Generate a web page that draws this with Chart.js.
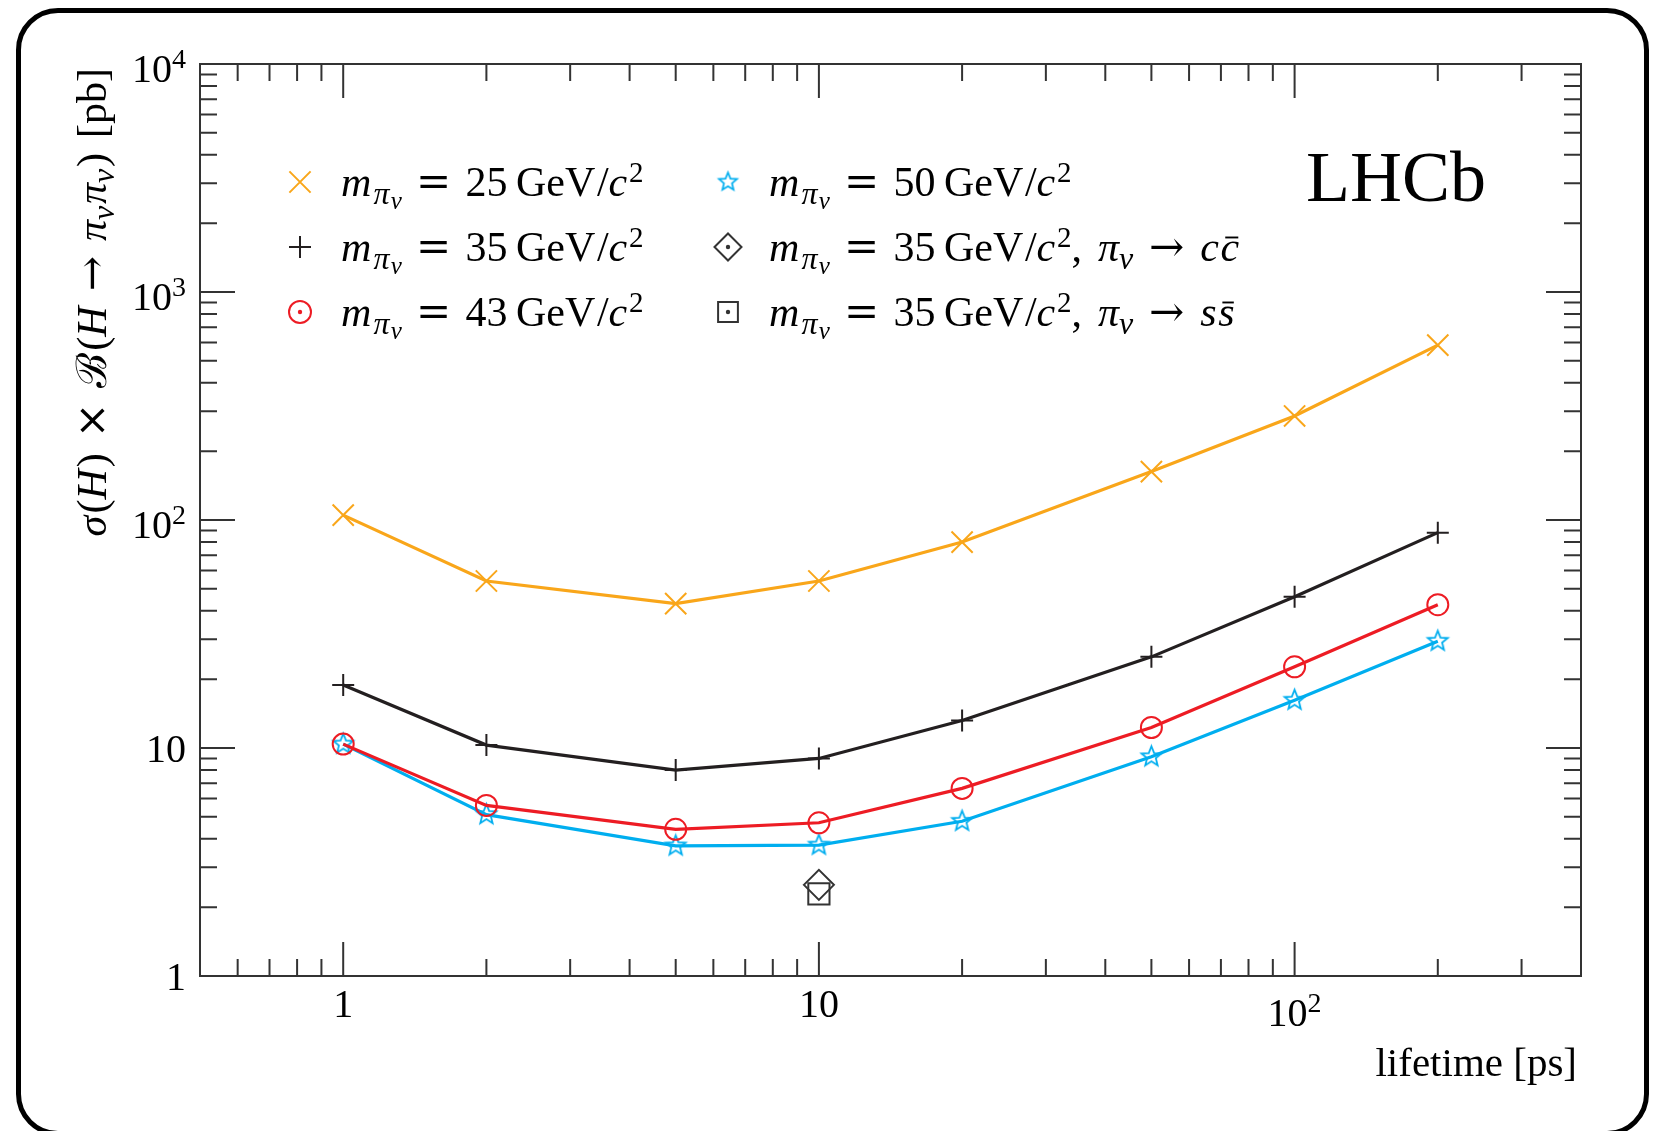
<!DOCTYPE html>
<html>
<head>
<meta charset="utf-8">
<script src="https://cdn.jsdelivr.net/npm/chart.js@4.4.0/dist/chart.umd.min.js"></script>
<style>
  html, body { margin: 0; padding: 0; background: #fff; }
  #wrap { position: relative; width: 1662px; height: 1131px; overflow: hidden; }
  #frame {
    position: absolute; left: 16px; top: 8px;
    width: 1623px; height: 1118px;
    border: 5px solid #000; border-radius: 42px;
  }
  #plot { position: absolute; left: 0; top: 0; }
</style>
</head>
<body>
<div id="wrap">
  <div id="frame"></div>
  <canvas id="plot" width="1662" height="1131"></canvas>
</div>
<script>
// pi_v lifetimes [ps] and upper limits on sigma x BR [pb]
const lifetimes = [1, 2, 5, 10, 20, 50, 100, 200];
const xsec25 = [105, 54, 43, 54, 80, 163, 286, 585];
const xsec35 = [18.9, 10.3, 8.0, 9.0, 13.2, 25.1, 46.1, 88];
const xsec43 = [10.4, 5.6, 4.4, 4.7, 6.65, 12.3, 22.7, 42.5];
const xsec50 = [10.4, 5.1, 3.72, 3.75, 4.77, 9.15, 16.2, 29.4];
const ccLifetimes = [10];
const xsec35cc = [2.51];
const ssLifetimes = [10];
const xsec35ss = [2.29];

const masses = ["25", "35", "43", "50", "35", "35"];
const decayQuarks = [null, null, null, null, "c", "s"];

// axis ticks and labels
const xMajorTicks = [1, 10, 100];
const xMinorTicks = [0.6, 0.7, 0.8, 0.9, 2, 3, 4, 5, 6, 7, 8, 9,
  20, 30, 40, 50, 60, 70, 80, 90, 200, 300];
const yMajorTicks = [1, 10, 100, 1000, 10000];
const yMinorTicks = [2, 3, 4, 5, 6, 7, 8, 9, 20, 30, 40, 50, 60, 70, 80, 90,
  200, 300, 400, 500, 600, 700, 800, 900, 2000, 3000, 4000, 5000, 6000, 7000, 8000, 9000];
const xTickLabels = ["1", "10", "10^2"];
const yTickLabels = ["1", "10", "10^2", "10^3", "10^4"];

const ORANGE = "#F9A61A";
const BLACK = "#231F20";
const RED = "#ED1C24";
const BLUE = "#00AEEF";
const GREY = "#333333";

const FONT = '"Liberation Serif", "Times New Roman", serif';
const MATH_FONT = '"DejaVu Serif", serif';
const TICK_SIZE = 40;
const TEXT_SIZE = 42;

// open five-pointed star marker
function makeStar(outer, inner, color, lw) {
  const size = Math.ceil(2 * outer + 2 * lw + 2);
  const c = document.createElement("canvas");
  c.width = size; c.height = size;
  const g = c.getContext("2d");
  g.translate(size / 2, size / 2);
  g.beginPath();
  for (let k = 0; k < 10; k++) {
    const r = k % 2 === 0 ? outer : inner;
    const a = -Math.PI / 2 + k * Math.PI / 5;
    g.lineTo(r * Math.cos(a), r * Math.sin(a));
  }
  g.closePath();
  g.strokeStyle = color;
  g.lineWidth = lw;
  g.lineJoin = "miter";
  g.stroke();
  return c;
}
const starPlot = makeStar(10.5, 4.6, BLUE, 1.8);
const starLegend = makeStar(9.5, 4.2, BLUE, 1.7);

// text runs: [text, kind]; kind "gap" takes an em fraction instead of text
const STYLE = {
  r: { s: 1, dy: 0 },
  i: { s: 1, dy: 0, it: true },
  m: { s: 1, dy: 0, math: true },
  sub: { s: 0.75, dy: 0.2, it: true },
  ss: { s: 0.6, dy: 0.3, it: true },
  sup: { s: 0.7, dy: -0.34 },
  bar: { s: 1, dy: 0, it: true, bar: true },
};

function fontFor(st, size) {
  return (st.it ? "italic " : "") + Math.round(size * st.s) + "px " + (st.math ? MATH_FONT : FONT);
}

function drawRich(ctx, runs, x, y, size, align) {
  const parts = runs.map(([t, k]) => {
    if (k === "gap") return { gap: true, w: t * size };
    const st = STYLE[k];
    ctx.font = fontFor(st, size);
    return { t, st, w: ctx.measureText(t).width };
  });
  const total = parts.reduce((s, p) => s + p.w, 0);
  let cx = align === "right" ? x - total : align === "center" ? x - total / 2 : x;
  ctx.textAlign = "left";
  ctx.textBaseline = "alphabetic";
  for (const p of parts) {
    if (!p.gap) {
      ctx.font = fontFor(p.st, size);
      ctx.fillText(p.t, cx, y + p.st.dy * size);
      if (p.st.bar) {
        const top = y - size * 0.56;
        ctx.save();
        ctx.lineWidth = size * 0.045;
        ctx.strokeStyle = ctx.fillStyle;
        ctx.beginPath();
        ctx.moveTo(cx + p.w * 0.25, top);
        ctx.lineTo(cx + p.w * 0.95, top);
        ctx.stroke();
        ctx.restore();
      }
    }
    cx += p.w;
  }
  return total;
}

function tickRuns(label) {
  const [b, e] = label.split("^");
  return e ? [[b, "r"], [e, "sup"]] : [[b, "r"]];
}

function massRuns(mass, quark) {
  const runs = [["m", "i"], [0.05, "gap"], ["π", "sub"], [0.03, "gap"], ["v", "ss"],
    [0.34, "gap"], ["=", "m"], [0.34, "gap"],
    [mass, "r"], [0.2, "gap"], ["GeV", "r"], [0.04, "gap"], ["/", "r"], ["c", "i"], [0.04, "gap"], ["2", "sup"]];
  if (quark) {
    runs.push([",", "r"], [0.38, "gap"], ["π", "i"], ["v", "sub"], [0.38, "gap"], ["→", "m"],
      [0.38, "gap"], [quark, "i"], [0.04, "gap"], [quark, "bar"]);
  }
  return runs;
}

const yTitleRuns = [["σ", "i"], [0.05, "gap"], ["(", "r"], ["H", "i"], [0.05, "gap"], [")", "r"],
  [0.36, "gap"], ["×", "m"], [0.36, "gap"], ["ℬ", "r"], [0.05, "gap"], ["(", "r"], ["H", "i"],
  [0.36, "gap"], ["→", "m"], [0.36, "gap"],
  ["π", "i"], ["v", "sub"], [0.04, "gap"], ["π", "i"], ["v", "sub"], [0.04, "gap"], [")", "r"],
  [0.36, "gap"], ["[pb]", "r"]];

const series = [
  { data: xsec25, x: lifetimes, color: ORANGE, style: "crossRot", radius: 15, line: true },
  { data: xsec35, x: lifetimes, color: BLACK, style: "cross", radius: 11, line: true },
  { data: xsec43, x: lifetimes, color: RED, style: "circle", radius: 10.5, line: true },
  { data: xsec50, x: lifetimes, color: BLUE, style: starPlot, radius: 10, line: true },
  { data: xsec35cc, x: ccLifetimes, color: GREY, style: "rectRot", radius: 15, line: false },
  { data: xsec35ss, x: ssLifetimes, color: GREY, style: "rect", radius: 15, line: false },
];

// legend layout: two columns, three rows
const legendSlots = [[300, 182], [300, 247], [300, 312], [728, 182], [728, 247], [728, 312]];
const legendMarks = [
  { style: "crossRot", radius: 15, dot: false },
  { style: "cross", radius: 11, dot: false },
  { style: "circle", radius: 11, dot: true },
  { style: starLegend, radius: 10, dot: false },
  { style: "rectRot", radius: 13.5, dot: true },
  { style: "rect", radius: 14, dot: true },
];

const decorations = {
  id: "decorations",
  beforeDatasetsDraw(chart) {
    const { ctx, chartArea: a, scales: { x, y } } = chart;
    ctx.save();
    ctx.strokeStyle = GREY;
    ctx.lineWidth = 2;
    ctx.strokeRect(a.left, a.top, a.right - a.left, a.bottom - a.top);
    ctx.beginPath();
    const xt = (v, len) => {
      const px = x.getPixelForValue(v);
      ctx.moveTo(px, a.bottom); ctx.lineTo(px, a.bottom - len);
      ctx.moveTo(px, a.top); ctx.lineTo(px, a.top + len);
    };
    const yt = (v, len) => {
      const py = y.getPixelForValue(v);
      ctx.moveTo(a.left, py); ctx.lineTo(a.left + len, py);
      ctx.moveTo(a.right, py); ctx.lineTo(a.right - len, py);
    };
    xMajorTicks.forEach((v) => xt(v, 34));
    xMinorTicks.forEach((v) => xt(v, 17));
    yMajorTicks.forEach((v) => yt(v, 35));
    yMinorTicks.forEach((v) => yt(v, 17));
    ctx.stroke();
    ctx.restore();
  },
  afterDraw(chart) {
    const { ctx, chartArea: a, scales: { x, y } } = chart;
    ctx.save();
    ctx.fillStyle = "#000";

    // tick labels
    xTickLabels.forEach((lab, k) => {
      const px = x.getPixelForValue(xMajorTicks[k]);
      const raised = lab.includes("^");
      drawRich(ctx, tickRuns(lab), px, a.bottom + (raised ? 50 : 41), TICK_SIZE, "center");
    });
    yTickLabels.forEach((lab, k) => {
      const py = y.getPixelForValue(yMajorTicks[k]);
      const raised = lab.includes("^");
      drawRich(ctx, tickRuns(lab), a.left - 14, py + (raised ? 18 : 14), TICK_SIZE, "right");
    });

    // axis titles
    drawRich(ctx, [["lifetime [ps]", "r"]], a.right - 4, 1076, 41, "right");
    ctx.save();
    ctx.translate(106, 68);
    ctx.rotate(-Math.PI / 2);
    drawRich(ctx, yTitleRuns, 0, 0, TEXT_SIZE, "right");
    ctx.restore();

    ctx.font = "72px " + FONT;
    ctx.fillText("LHCb", 1306, 201);

    // legend
    legendSlots.forEach(([mx, my], k) => {
      const s = series[k];
      const m = legendMarks[k];
      ctx.save();
      ctx.strokeStyle = s.color;
      ctx.fillStyle = "rgba(0,0,0,0)";
      ctx.lineWidth = 2;
      Chart.helpers.drawPoint(ctx, { pointStyle: m.style, radius: m.radius, borderWidth: 2, rotation: 0 }, mx, my);
      if (m.dot) {
        ctx.fillStyle = s.color;
        ctx.beginPath();
        ctx.arc(mx, my, 2.2, 0, 2 * Math.PI);
        ctx.fill();
      }
      ctx.restore();
      ctx.fillStyle = "#000";
      drawRich(ctx, massRuns(masses[k], decayQuarks[k]), mx + 41, my + 14, TEXT_SIZE, "left");
    });
    ctx.restore();
  },
};

new Chart(document.getElementById("plot"), {
  type: "line",
  data: {
    datasets: series.map((s) => ({
      data: s.x.map((lt, k) => ({ x: lt, y: s.data[k] })),
      borderColor: s.color,
      backgroundColor: "rgba(0,0,0,0)",
      borderWidth: 3.2,
      showLine: s.line,
      tension: 0,
      pointStyle: s.style,
      pointRadius: s.radius,
      pointBorderColor: s.color,
      pointBackgroundColor: "rgba(0,0,0,0)",
      pointBorderWidth: 2,
    })),
  },
  options: {
    responsive: false,
    animation: false,
    layout: { padding: { left: 200, right: 81, top: 64, bottom: 155 } },
    scales: {
      x: { type: "logarithmic", min: 0.5, max: 400, display: false },
      y: { type: "logarithmic", min: 1, max: 10000, display: false },
    },
    plugins: {
      legend: { display: false },
      tooltip: { enabled: false },
    },
  },
  plugins: [decorations],
});
</script>
</body>
</html>
